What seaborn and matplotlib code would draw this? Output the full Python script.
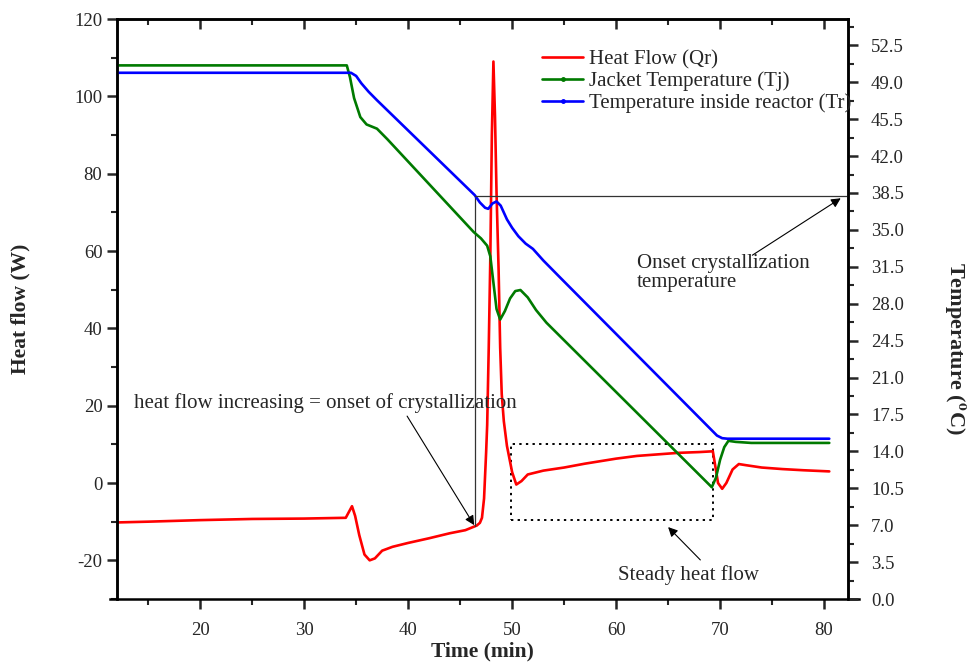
import numpy as np
import pandas as pd
import matplotlib
matplotlib.use("Agg")
import matplotlib.pyplot as plt
import seaborn as sns
from matplotlib.lines import Line2D
from matplotlib.patches import Rectangle

sns.set_theme(style="white")
plt.rcParams['font.family'] = ['Liberation Serif', 'DejaVu Serif']
plt.rcParams['mathtext.fontset'] = 'stix'
plt.rcParams['axes.unicode_minus'] = False

# ---- data ----
qr_time = [12, 15, 20, 25, 30, 34, 34.3, 34.6, 34.9, 35.3, 35.8, 36.3, 36.8, 37.5,
           38.5, 40, 42, 44, 45.5, 46.6, 46.9, 47.1, 47.3, 47.5, 47.6, 47.75, 47.9,
           48.05, 48.2, 48.35, 48.5, 48.7, 48.85, 49.0, 49.2, 49.5, 50.0, 50.4, 50.9,
           51.5, 53, 55, 57, 60, 62, 64, 66, 68, 69.3, 69.5, 69.8, 70.2, 70.6, 71.2,
           71.8, 72.5, 74, 76, 78, 80.5]
qr_value = [-10.2, -10.0, -9.6, -9.3, -9.2, -9.0, -7.5, -6.0, -8.5, -13.5, -18.5, -20.0,
            -19.5, -17.5, -16.5, -15.5, -14.3, -13.0, -12.2, -11.0, -10.3, -9.0, -4, 8,
            15, 35, 58, 90, 109, 95, 75, 55, 35, 23, 16, 9.6, 2.8, -0.4, 0.5, 2.2, 3.2,
            4.0, 5.0, 6.3, 7.0, 7.4, 7.8, 8.0, 8.2, 5, 0, -1.5, 0, 3.5, 4.9, 4.6, 4.0,
            3.6, 3.3, 3.0]

tj_time = [12, 34.1, 34.4, 34.8, 35.4, 36.0, 37.0, 38.0, 46.3, 47.0, 47.6, 47.9, 48.2,
           48.5, 48.85, 49.3, 49.8, 50.3, 50.8, 51.5, 52.3, 53.3, 69.2, 69.6, 70.0,
           70.4, 70.8, 71.5, 73, 80.5]
tj_value = [50.6, 50.6, 49.5, 47.5, 45.7, 45.0, 44.6, 43.6, 34.8, 34.2, 33.5, 32.5, 30.0,
            27.5, 26.5, 27.3, 28.5, 29.2, 29.3, 28.6, 27.4, 26.2, 10.6, 11.5, 13.2,
            14.4, 15.0, 14.9, 14.8, 14.8]

tr_time = [12, 34.5, 35.0, 35.5, 36.2, 37.0, 46.4, 46.9, 47.4, 47.7, 48.1, 48.5, 48.9,
           49.5, 50.0, 50.6, 51.3, 52.0, 53.0, 54.6, 69.7, 70.2, 70.7, 80.5]
tr_value = [49.9, 49.9, 49.6, 48.9, 48.1, 47.3, 38.3, 37.6, 37.1, 37.0, 37.5, 37.7, 37.3,
            36.0, 35.2, 34.4, 33.7, 33.2, 32.1, 30.5, 15.5, 15.25, 15.2, 15.2]

series_labels = ["Heat Flow (Qr)", "Jacket Temperature (Tj)", "Temperature inside reactor (Tr)"]
series_colors = ["#ff0000", "#007a00", "#0000ff"]

onset_time = 46.4
onset_heat = -11.0
onset_temp = 38.2
steady_box = (49.9, -9.6, 69.3, 10.0)  # t0, q0, t1, q1

xlim = (12, 82.3)
ylim_q = (-30, 120)
ylim_t = (0, 55)

df_q = pd.DataFrame({"time": qr_time, "value": qr_value})
df_j = pd.DataFrame({"time": tj_time, "value": tj_value})
df_r = pd.DataFrame({"time": tr_time, "value": tr_value})

fig = plt.figure(figsize=(9.69, 6.65), dpi=100)
ax = fig.add_axes([117 / 969, 1 - 599 / 665, (848 - 117) / 969, (599 - 19) / 665])
ax2 = ax.twinx()

lw = 1.9
sns.lineplot(data=df_q, x="time", y="value", ax=ax, color=series_colors[0], lw=lw,
             estimator=None, sort=False)
sns.lineplot(data=df_j, x="time", y="value", ax=ax2, color=series_colors[1], lw=lw,
             estimator=None, sort=False)
sns.lineplot(data=df_r, x="time", y="value", ax=ax2, color=series_colors[2], lw=lw,
             estimator=None, sort=False)

ax.set_xlim(*xlim)
ax.set_ylim(*ylim_q)
ax2.set_ylim(*ylim_t)

# onset lines
q_of_temp = ylim_q[0] + (onset_temp - ylim_t[0]) / (ylim_t[1] - ylim_t[0]) * (ylim_q[1] - ylim_q[0])
ax.plot([onset_time, onset_time], [onset_heat, q_of_temp], color="#333333", lw=0.9)
ax2.plot([onset_time, xlim[1]], [onset_temp, onset_temp], color="#333333", lw=0.9)

# dotted box
t0, q0, t1, q1 = steady_box
ax.add_patch(Rectangle((t0, q0), t1 - t0, q1 - q0, fill=False, ls=(0, (1.2, 2.2)),
                       lw=1.4, ec="black"))

arrow = dict(arrowstyle="-|>", color="black", lw=0.8, mutation_scale=14,
             shrinkA=0, shrinkB=0)
fs = 15
ax.text(13.6, 20.7, "heat flow increasing = onset of crystallization", fontsize=fs,
        va="center", ha="left")
ax.annotate("", xy=(46.35, -10.9), xytext=(39.9, 17.3), arrowprops=arrow)

ax2.text(62.0, 32.7, "Onset crystallization\ntemperature", fontsize=fs, va="top",
         ha="left", linespacing=1.0)
ax2.annotate("", xy=(81.6, 38.0), xytext=(73.1, 32.6), arrowprops=arrow)

ax.text(60.2, -23.8, "Steady heat flow", fontsize=fs, va="center", ha="left")
ax.annotate("", xy=(65.0, -11.4), xytext=(68.1, -19.9), arrowprops=arrow)

# ticks
ax.set_xticks(np.arange(20, 81, 10))
ax.set_xticks(np.arange(15, 82, 5), minor=True)
ax.set_yticks(np.arange(-20, 121, 20))
ax.set_yticks(np.arange(-30, 121, 10), minor=True)
ax2.set_yticks(np.arange(0, 54, 3.5))
ax2.set_yticks(np.arange(0, 55, 1.75), minor=True)
ax2.set_yticklabels([f"{v:.1f}" for v in np.arange(0, 54, 3.5)])

tick_fs = 13.5
ax.tick_params(axis="x", which="major", direction="out", length=7.5, width=1.8,
               labelsize=tick_fs, pad=9)
ax.tick_params(axis="x", which="minor", direction="out", length=4, width=1.5)
ax.tick_params(axis="y", which="major", direction="out", length=7.5, width=1.8,
               labelsize=tick_fs, pad=3)
ax.tick_params(axis="y", which="minor", direction="out", length=4, width=1.5)
ax2.tick_params(axis="y", which="major", direction="out", length=7.5, width=1.8,
                labelsize=tick_fs, pad=9)
ax2.tick_params(axis="y", which="minor", direction="out", length=4, width=1.5)
# top ticks pointing into the plot
ax.xaxis.set_ticks_position("both")
for t in ax.xaxis.get_major_ticks():
    t.tick2line.set_marker(3)
    t.tick2line.set_markersize(7.5)
    t.tick2line.set_markeredgewidth(1.8)
for t in ax.xaxis.get_minor_ticks():
    t.tick2line.set_marker(3)
    t.tick2line.set_markersize(4)
    t.tick2line.set_markeredgewidth(1.5)

for a in (ax, ax2):
    for s in a.spines.values():
        s.set_linewidth(1.8)
        s.set_color("black")
ax.spines["bottom"].set_bounds(11.3, 83.4)
ax2.spines["bottom"].set_visible(False)

ax.set_xlabel("Time (min)", fontsize=15.5, fontweight="bold", labelpad=2)
ax.set_ylabel("Heat flow (W)", fontsize=15.5, fontweight="bold")
ax.yaxis.set_label_coords(-0.118, 0.5)
ax2.set_ylabel(r"Temperature ($^{\mathbf{o}}$C)", fontsize=16, fontweight="bold",
               rotation=270, va="bottom")
ax2.yaxis.set_label_coords(1.129, 0.432)

handles = [Line2D([], [], color=series_colors[0], lw=lw),
           Line2D([], [], color=series_colors[1], lw=lw, marker="o", markersize=2.5),
           Line2D([], [], color=series_colors[2], lw=lw, marker="o", markersize=2.5)]
ax2.legend(handles, series_labels, loc="upper left", bbox_to_anchor=(0.581, 0.947),
           frameon=False, fontsize=15, handlelength=2.0, handletextpad=0.25,
           labelspacing=0.1, borderaxespad=0, borderpad=0)

fig.savefig("out.png", dpi=100)
